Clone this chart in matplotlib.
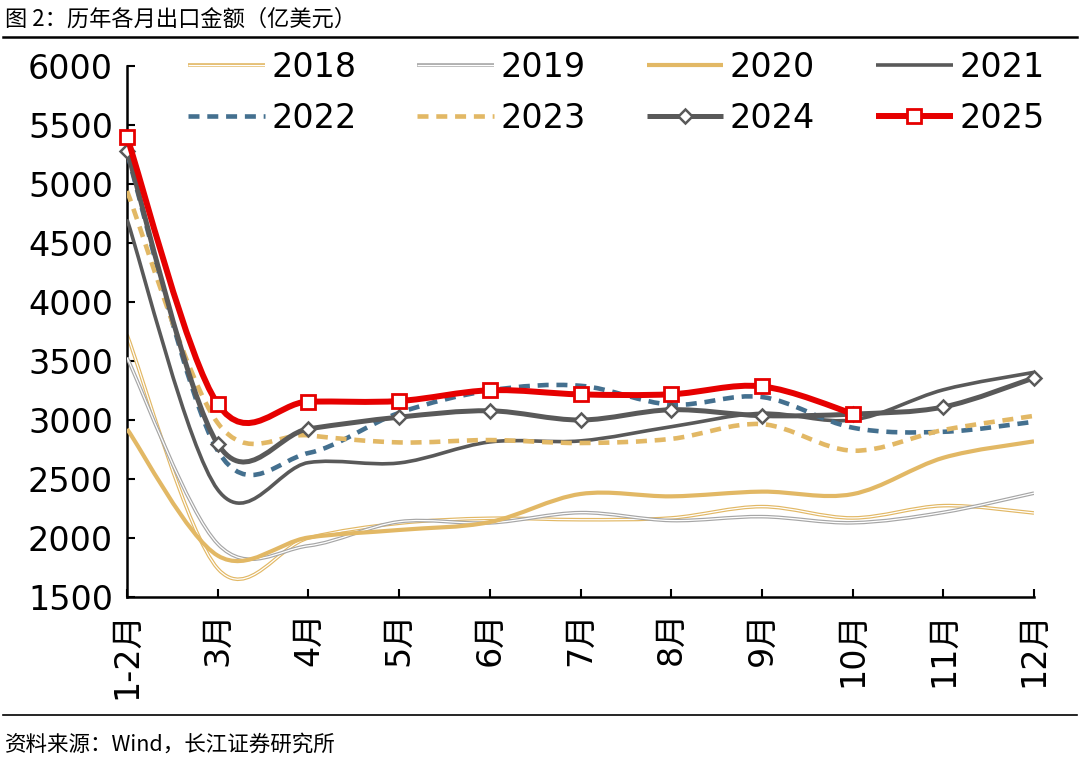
import numpy as np
import matplotlib
matplotlib.use('Agg')
import matplotlib.pyplot as plt
from matplotlib.path import Path
from matplotlib.patches import PathPatch
from matplotlib.lines import Line2D
import matplotlib.patheffects as pe

plt.rcParams['font.family'] = ['DejaVu Sans', 'Noto Sans CJK SC']

# 数据（亿美元）
months = ['1-2月', '3月', '4月', '5月', '6月', '7月', '8月', '9月', '10月', '11月', '12月']
y2018 = [3722, 1741, 2000, 2125, 2167, 2155, 2170, 2266, 2170, 2274, 2212]
y2019 = [3529, 1950, 1934, 2138, 2128, 2215, 2148, 2181, 2129, 2217, 2380]
y2020 = [2924, 1851, 2004, 2068, 2135, 2373, 2353, 2393, 2372, 2680, 2819]
y2021 = [4700, 2410, 2639, 2636, 2814, 2823, 2943, 3057, 3000, 3256, 3404]
y2022 = [5260, 2740, 2720, 3060, 3250, 3290, 3130, 3195, 2935, 2900, 2985]
y2023 = [4940, 2975, 2870, 2810, 2830, 2805, 2840, 2965, 2740, 2915, 3035]
y2024 = [5280, 2797, 2925, 3024, 3078, 3000, 3087, 3037, 3050, 3110, 3357]
y2025 = [5398, 3136, 3156, 3161, 3252, 3217, 3218, 3285, 3054]

gold = '#E2B865'
grey = '#A6A6A6'
dark = '#595959'
blue = '#44708F'
red = '#E60000'


def smooth_path(ys):
    # Excel 风格平滑曲线（Catmull-Rom -> 三次贝塞尔）
    pts = np.column_stack([np.arange(len(ys), dtype=float), np.asarray(ys, float)])
    n = len(pts)
    verts = [pts[0]]
    codes = [Path.MOVETO]
    for i in range(n - 1):
        p0 = pts[max(i - 1, 0)]
        p1 = pts[i]
        p2 = pts[i + 1]
        p3 = pts[min(i + 2, n - 1)]
        verts += [p1 + (p2 - p0) / 6, p2 - (p3 - p1) / 6, p2]
        codes += [Path.CURVE4] * 3
    return Path(verts, codes)


series = [
    ('2018', y2018, dict(color='white', lw=0.9, ls='-',
                         path_effects=[pe.Stroke(linewidth=2.6, foreground=gold), pe.Normal()])),
    ('2019', y2019, dict(color='white', lw=0.9, ls='-',
                         path_effects=[pe.Stroke(linewidth=2.6, foreground=grey), pe.Normal()])),
    ('2020', y2020, dict(color=gold, lw=3.0, ls='-')),
    ('2021', y2021, dict(color=dark, lw=2.6, ls='-')),
    ('2022', y2022, dict(color=blue, lw=3.3, ls=(0, (2.4, 1.7)))),
    ('2023', y2023, dict(color=gold, lw=3.3, ls=(0, (2.4, 1.7)))),
    ('2024', y2024, dict(color=dark, lw=3.6, ls='-', marker='D', ms=7, mew=1.8)),
    ('2025', y2025, dict(color=red, lw=4.3, ls='-', marker='s', ms=10, mew=2.0)),
]

fig = plt.figure(figsize=(10.8, 7.63), dpi=100)
ax = fig.add_axes([127 / 1080, 1 - 597 / 763, (1034 - 127) / 1080, (597 - 66) / 763])

handles = {}
for z, (name, ys, st) in enumerate(series):
    patch = PathPatch(smooth_path(ys), fill=False, edgecolor=st['color'], lw=st['lw'],
                      linestyle=st['ls'], capstyle='butt', joinstyle='round', zorder=2 + z)
    if 'path_effects' in st:
        patch.set_path_effects(st['path_effects'])
    ax.add_patch(patch)
    h = Line2D([], [], color=st['color'], lw=st['lw'], linestyle=st['ls'], solid_capstyle='butt',
               dash_capstyle='butt')
    if 'path_effects' in st:
        h.set_path_effects(st['path_effects'])
    if 'marker' in st:
        ax.plot(range(len(ys)), ys, linestyle='none', marker=st['marker'], ms=st['ms'],
                mfc='white', mec=st['color'], mew=st['mew'], zorder=2 + z, clip_on=False)
        h.set_marker(st['marker'])
        h.set_markersize(st['ms'])
        h.set_markerfacecolor('white')
        h.set_markeredgecolor(st['color'])
        h.set_markeredgewidth(st['mew'])
    handles[name] = h

ax.set_xlim(0, len(months) - 1)
ax.set_ylim(1500, 6000)
ax.set_yticks(np.arange(1500, 6001, 500))
ax.set_xticks(range(len(months)))
ax.set_xticklabels(months, rotation=90, fontsize=24)
ax.tick_params(axis='y', labelsize=24)
ax.tick_params(direction='in', length=6, width=1.5, pad=10)
for s in ['top', 'right']:
    ax.spines[s].set_visible(False)
for s in ['left', 'bottom']:
    ax.spines[s].set_linewidth(1.8)

order = ['2018', '2022', '2019', '2023', '2020', '2024', '2021', '2025']
fig.legend([handles[k] for k in order], order, ncol=4, frameon=False, fontsize=24,
           loc='upper left', bbox_to_anchor=(188 / 1080, 1 - 51 / 763),
           borderpad=0, borderaxespad=0, handlelength=2.3, handletextpad=0.2,
           columnspacing=1.82, labelspacing=0.53)

fig.text(5 / 1080, 1 - 19 / 763, '图 2：历年各月出口金额（亿美元）', fontsize=16,
         family=['Noto Sans CJK SC'], va='center', ha='left')
fig.add_artist(Line2D([3 / 1080, 1077 / 1080], [1 - 37 / 763] * 2, color='black', lw=1.8))
fig.add_artist(Line2D([3 / 1080, 1077 / 1080], [1 - 715 / 763] * 2, color='black', lw=1.2))
fig.text(5 / 1080, 1 - 745 / 763, '资料来源：Wind，长江证券研究所', fontsize=15.5,
         family=['Noto Sans CJK SC'], va='center', ha='left')

fig.savefig('out.png', dpi=100)
